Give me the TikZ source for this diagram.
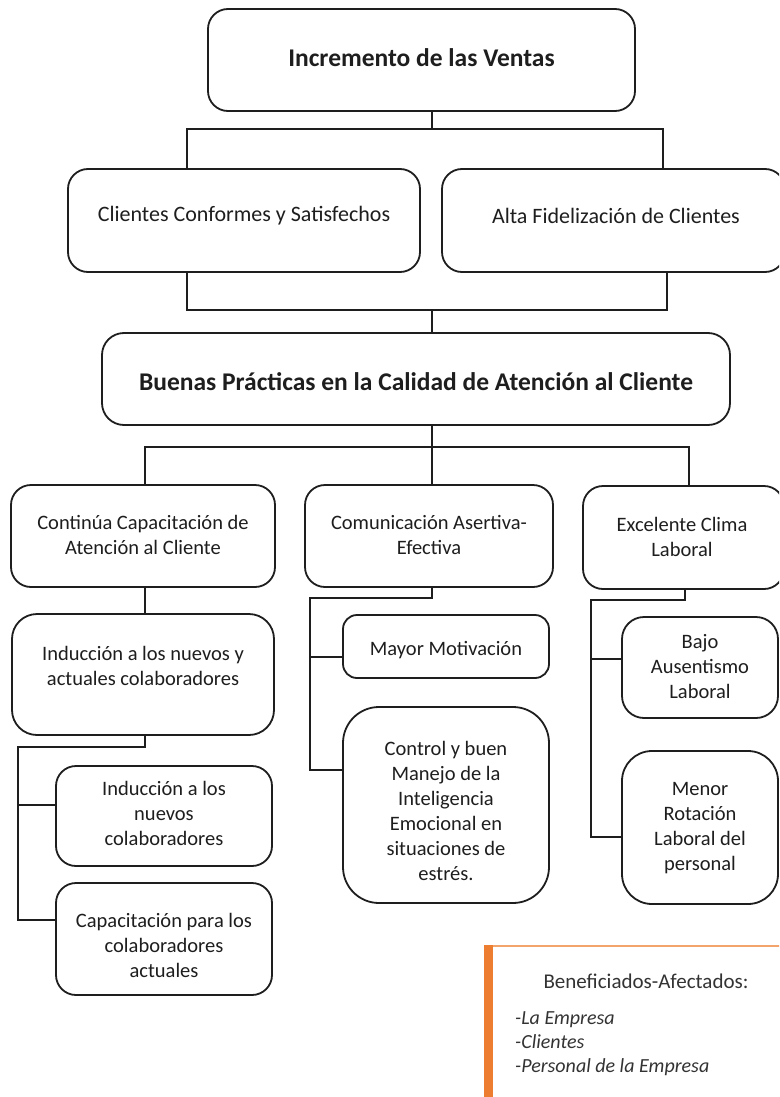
\documentclass[tikz,border=0pt]{standalone}
\usepackage{fontspec}
\setmainfont{Carlito}
\definecolor{orA}{HTML}{ED7D31}
\definecolor{orB}{HTML}{F2A46C}
\definecolor{ink}{HTML}{1E1E1E}
\tikzset{
  box/.style={draw=ink, line width=1.8pt, fill=white, rounded corners=#1, inner sep=0pt},
  box/.default=20pt,
  txt/.style={align=center, inner sep=0pt, text=ink, font=\fontsize{20.5}{25}\selectfont},
  txtb/.style={align=center, inner sep=0pt, text=ink, font=\bfseries\fontsize{25.5}{30}\selectfont},
  txtm/.style={align=center, inner sep=0pt, text=ink, font=\fontsize{22}{27}\selectfont},
  conn/.style={line width=1.8pt, draw=ink},
}
\begin{document}
\begin{tikzpicture}[x=1pt,y=-1pt]
\useasboundingbox (0,0) rectangle (779,1097);
\clip (0,0) rectangle (779,1097);
\fill[white] (0,0) rectangle (779,1097);

% ---------- boxes ----------
\node[box=20pt, minimum width=427pt, minimum height=102pt] (top) at (421.5,60) {};
\node[box=20pt, minimum width=352pt, minimum height=103pt] (c1) at (244,220.5) {};
\node[box=20pt, minimum width=343pt, minimum height=103pt] (c2) at (613.5,220.5) {};
\node[box=22pt, minimum width=628pt, minimum height=92pt] (bp) at (416,379) {};
\node[box=20pt, minimum width=264pt, minimum height=102pt] (l1) at (143,536) {};
\node[box=20pt, minimum width=248pt, minimum height=102pt] (m1) at (429,536) {};
\node[box=20pt, minimum width=201pt, minimum height=103pt] (r1) at (683.5,537.5) {};
\node[box=25pt, minimum width=262pt, minimum height=121pt] (l2) at (143,674.5) {};
\node[box=20pt, minimum width=216pt, minimum height=100pt] (l3) at (164,816) {};
\node[box=20pt, minimum width=216pt, minimum height=112pt] (l4) at (164,939) {};
\node[box=14pt, minimum width=206pt, minimum height=63pt] (m2) at (446,646.5) {};
\node[box=36pt, minimum width=206pt, minimum height=196pt] (m3) at (446,805) {};
\node[box=22pt, minimum width=156pt, minimum height=101pt] (r2) at (700,667.5) {};
\node[box=30pt, minimum width=156pt, minimum height=153pt] (r3) at (700,827.5) {};

% ---------- texts ----------
\node[txtb] (topt) at (421.5,58) {Incremento de las Ventas};
\node[txtm] (c1t) at (244,216) {Clientes Conformes y Satisfechos};
\node[txtm] (c2t) at (616,216) {Alta Fidelización de Clientes};
\node[txtb] (bpt) at (416,382) {Buenas Prácticas en la Calidad de Atención al Cliente};
\node[txt] (l1t) at (143,535) {Continúa Capacitación de\\Atención al Cliente};
\node[txt] (m1t) at (429,535) {Comunicación Asertiva-\\Efectiva};
\node[txt] (r1t) at (682,537) {Excelente Clima\\Laboral};
\node[txt] (l2t) at (143,666) {Inducción a los nuevos y\\actuales colaboradores};
\node[txt] (l3t) at (164,813) {Inducción a los\\nuevos\\colaboradores};
\node[txt] (l4t) at (164,945) {Capacitación para los\\colaboradores\\actuales};
\node[txt] (m2t) at (446,650) {Mayor Motivación};
\node[txt] (m3t) at (446,810.5) {Control y buen\\Manejo de la\\Inteligencia\\Emocional en\\situaciones de\\estrés.};
\node[txt] (r2t) at (700,667) {Bajo\\Ausentismo\\Laboral};
\node[txt] (r3t) at (700,828) {Menor\\Rotación\\Laboral del\\personal};

% ---------- connectors ----------
\coordinate (a0) at (432,129);
\coordinate (a1) at (187,129);
\coordinate (a2) at (663,129);
\draw[conn] (top.south -| a0) -- (a0);
\draw[conn] (c1.north -| a1) -- (a1) -- (a2) -- (c2.north -| a2);

\coordinate (b0) at (432,310);
\coordinate (b1) at (187,310);
\coordinate (b2) at (667,310);
\draw[conn] (c1.south -| b1) -- (b1) -- (b2) -- (c2.south -| b2);
\draw[conn] (b0) -- (bp.north -| b0);

\coordinate (d0) at (432,447);
\coordinate (d1) at (145,447);
\coordinate (d2) at (689,447);
\draw[conn] (bp.south -| d0) -- (d0);
\draw[conn] (l1.north -| d1) -- (d1) -- (d2) -- (r1.north -| d2);
\draw[conn] (d0) -- (m1.north -| d0);

% left column
\draw[conn] (l1.south -| d1) -- (l2.north -| d1);
\coordinate (e0) at (145,747);
\coordinate (e1) at (18,747);
\coordinate (e2) at (18,805);
\coordinate (e3) at (18,920);
\draw[conn] (l2.south -| e0) -- (e0) -- (e1) -- (e3) -- (l4.west |- e3);
\draw[conn] (e2) -- (l3.west |- e2);

% middle column
\coordinate (f0) at (432,598);
\coordinate (f1) at (310,598);
\coordinate (f2) at (310,657);
\coordinate (f3) at (310,770);
\draw[conn] (m1.south -| f0) -- (f0) -- (f1) -- (f3) -- (m3.west |- f3);
\draw[conn] (f2) -- (m2.west |- f2);

% right column
\coordinate (g0) at (685,600);
\coordinate (g1) at (591,600);
\coordinate (g2) at (591,659);
\coordinate (g3) at (591,837);
\draw[conn] (r1.south -| g0) -- (g0) -- (g1) -- (g3) -- (r3.west |- g3);
\draw[conn] (g2) -- (r2.west |- g2);

% ---------- beneficiados box ----------
\node[draw=orB, line width=2.4pt, fill=white, minimum width=315pt, minimum height=164pt, inner sep=0pt] (ben) at (642.5,1028) {};
\fill[orA] (ben.north west) rectangle ([xshift=9pt]ben.south west);
\node[txt, font=\fontsize{21}{25}\selectfont, text=black!80] (bent) at (646,981) {Beneficiados-Afectados:};
\node[inner sep=0pt, align=left, anchor=north west, text=black!80, font=\itshape\fontsize{20}{24}\selectfont] (benl) at (515,1011) {-La Empresa\\-Clientes\\-Personal de la Empresa};
\end{tikzpicture}
\end{document}
